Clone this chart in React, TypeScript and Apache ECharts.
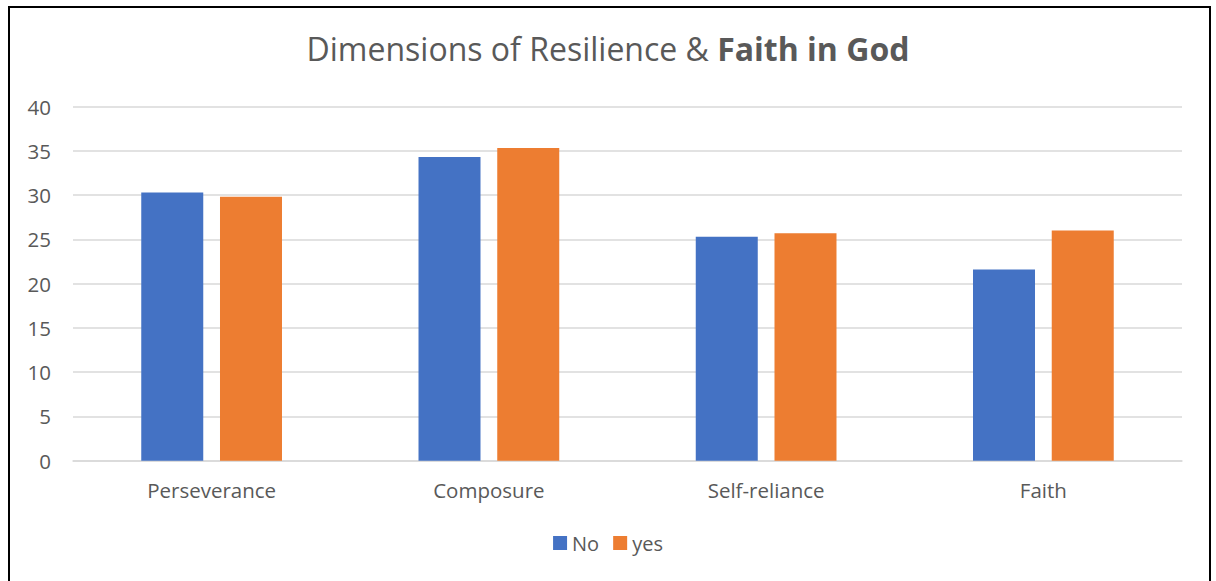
import React, { useEffect, useRef } from "react";
import * as echarts from "echarts";

const categories = ["Perseverance", "Composure", "Self-reliance", "Faith"];
const seriesNames = ["No", "yes"];
const noValues = [30.3, 34.3, 25.3, 21.6];
const yesValues = [29.8, 35.3, 25.7, 26.0];
const colors = ["#4472C4", "#ED7D31"];

export default function App() {
  const ref = useRef<HTMLDivElement>(null);
  useEffect(() => {
    document.body.style.margin = "0";
    const chart = echarts.init(ref.current!, undefined, { renderer: "svg" });
    const font = "'Open Sans', sans-serif";
    chart.setOption({
      animation: false,
      backgroundColor: "#ffffff",
      textStyle: { fontFamily: font },
      title: {
        text: "{a|Dimensions of Resilience & }{b|Faith in God}",
        left: "center",
        top: 27,
        textStyle: {
          fontWeight: "normal",
          rich: {
            a: { fontSize: 32, color: "#595959", fontWeight: "normal", fontFamily: font },
            b: { fontSize: 32, color: "#595959", fontWeight: "bold", fontFamily: font },
          },
        },
      },
      graphic: [
        {
          type: "rect",
          shape: { x: 9, y: 7, width: 1201, height: 590 },
          style: { fill: "none", stroke: "#000", lineWidth: 2 },
          silent: true,
        },
      ],
      legend: {
        data: seriesNames,
        bottom: 23,
        left: "center",
        itemWidth: 14,
        itemHeight: 14,
        itemGap: 14,
        itemTextGap: 6,
        icon: "rect",
        textStyle: { fontSize: 20, color: "#595959", fontFamily: font },
      },
      grid: { left: 73, right: 34, top: 106.5, bottom: 120.3, containLabel: false },
      xAxis: {
        type: "category",
        data: categories,
        axisLine: { lineStyle: { color: "#d9d9d9", width: 1.5 } },
        axisTick: { show: false },
        axisLabel: { fontSize: 20.5, color: "#595959", margin: 19, fontFamily: font },
      },
      yAxis: {
        type: "value",
        min: 0,
        max: 40,
        interval: 5,
        axisLine: { show: false },
        axisTick: { show: false },
        splitLine: { lineStyle: { color: "#d9d9d9", width: 1.5 } },
        axisLabel: { fontSize: 20.5, color: "#595959", margin: 22, fontFamily: font },
      },
      series: [
        {
          name: seriesNames[0],
          type: "bar",
          data: noValues,
          barWidth: 62,
          barGap: "27%",
          itemStyle: { color: colors[0] },
        },
        {
          name: seriesNames[1],
          type: "bar",
          data: yesValues,
          barWidth: 62,
          itemStyle: { color: colors[1] },
        },
      ],
    });
    return () => chart.dispose();
  }, []);
  return <div ref={ref} style={{ width: 1216, height: 581 }} />;
}
